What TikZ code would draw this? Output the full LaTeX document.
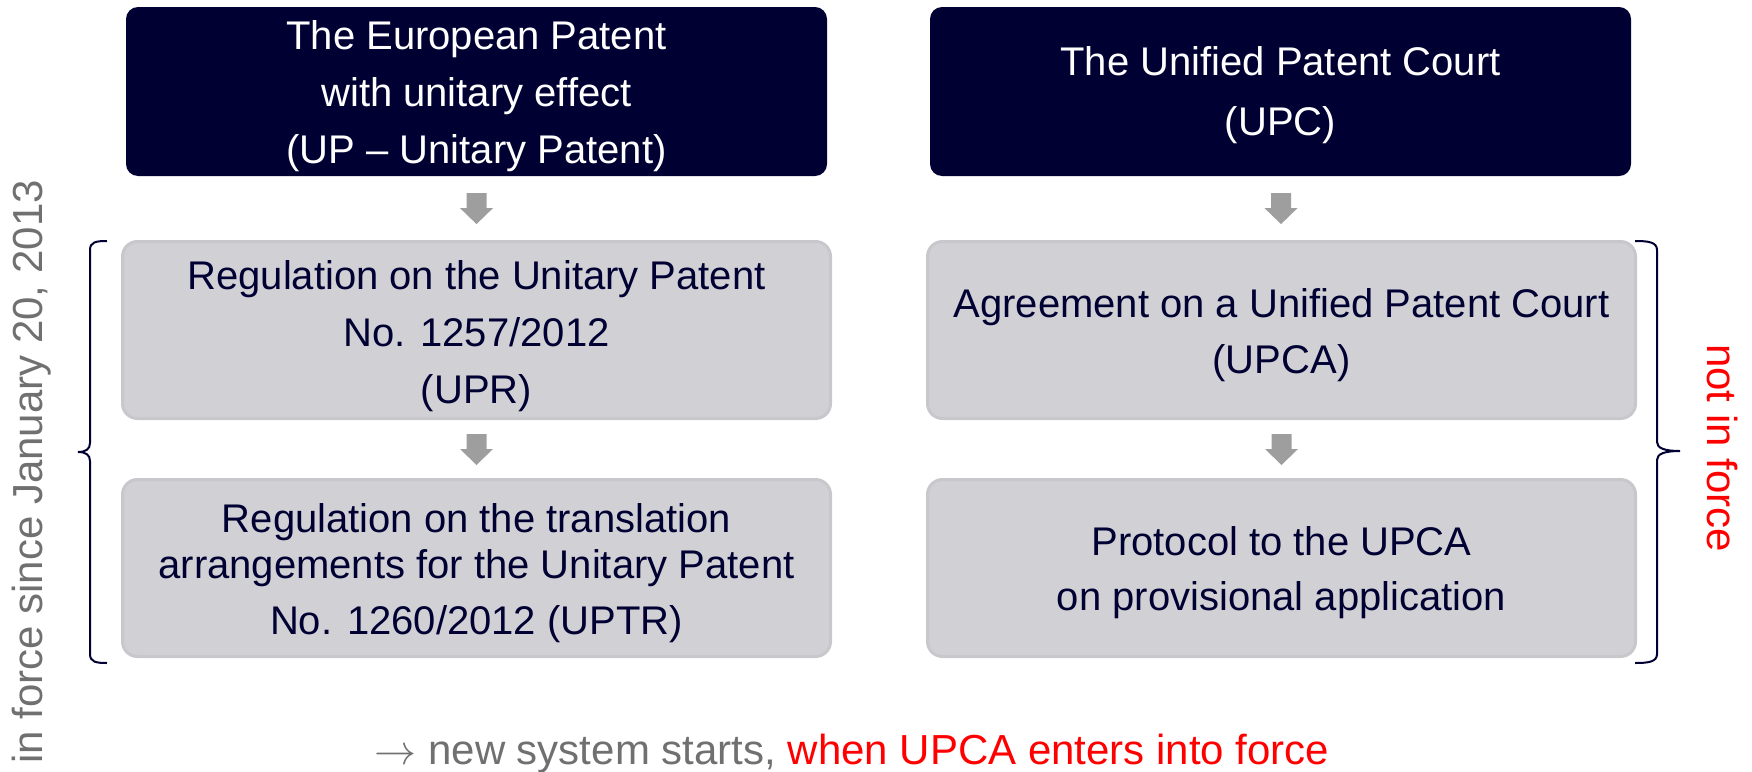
\documentclass[tikz,border=0pt]{standalone}
\usepackage{graphicx}
\usepackage{fontspec}
\setmainfont{Liberation Sans}
\usetikzlibrary{calc}
\definecolor{navy}{RGB}{0,0,51}
\definecolor{boxgray}{RGB}{209,209,213}
\definecolor{boxedge}{RGB}{199,199,204}
\definecolor{arrowgray}{RGB}{158,158,158}
\definecolor{sidegray}{RGB}{112,112,112}
\definecolor{alertred}{RGB}{255,0,0}
\newcommand\blockarrow[1]{\fill[arrowgray] (#1) ++(-10,-15) -- ++(20,0) -- ++(0,15) -- ++(6.5,0) -- ++(-16.5,16) -- ++(-16.5,-16) -- ++(6.5,0) -- cycle;}
\begin{document}
\begin{tikzpicture}[x=1pt,y=-1pt,
  boxtext/.style={font=\fontsize{40}{46}\selectfont, align=center, inner sep=0pt},
  darkbox/.style={fill=navy, draw=none, rounded corners=12pt, minimum width=701pt, minimum height=169pt, inner sep=0pt},
  graybox/.style={fill=boxgray, draw=boxedge, line width=3pt, rounded corners=15pt, minimum width=708pt, minimum height=177pt, inner sep=0pt},
  sidetext/.style={font=\fontsize{42}{48}\selectfont, inner sep=0pt, anchor=base},
  bracestyle/.style={draw=navy, line width=2pt}]
\useasboundingbox (0,0) rectangle (1752,771);
% top boxes
\node[darkbox] (d1) at (476.5,91.5) {};
\node[darkbox] (d2) at (1280.5,91.5) {};
% gray boxes
\node[graybox] (g1) at (476.5,330) {};
\node[graybox] (g2) at (476.5,568) {};
\node[graybox] (r1) at (1281.5,330) {};
\node[graybox] (r2) at (1281.5,568) {};
% box texts
\node[boxtext, text=white] (d1t) at ($(d1.center)+(0,5)$) {The European Patent\\[11pt]with unitary effect\\[11pt](UP – Unitary Patent)};
\node[boxtext, text=white] (d2t) at ($(d2.center)+(0,4)$) {The Unified Patent Court\\[14pt](UPC)};
\node[boxtext, text=navy] (g1t) at ($(g1.center)+(0,6)$) {Regulation on the Unitary Patent\\[11pt]No. 1257/2012\\[11pt](UPR)};
\node[boxtext, text=navy] (g2t) at ($(g2.center)+(0,5)$) {Regulation on the translation\\arrangements for the Unitary Patent\\[10pt]No. 1260/2012 (UPTR)};
\node[boxtext, text=navy] (r1t) at ($(r1.center)+(0,5)$) {Agreement on a Unified Patent Court\\[10pt](UPCA)};
\node[boxtext, text=navy] (r2t) at ($(r2.center)+(0,5)$) {Protocol to the UPCA\\[9pt]on provisional application};
% block arrows
\coordinate (a1) at ($(d1.south)!0.5!(g1.north)$);
\coordinate (a2) at ($(g1.south)!0.5!(g2.north)$);
\coordinate (a3) at ($(d2.south)!0.5!(r1.north)$);
\coordinate (a4) at ($(r1.south)!0.5!(r2.north)$);
\blockarrow{a1}
\blockarrow{a2}
\blockarrow{a3}
\blockarrow{a4}
% braces
\draw[bracestyle] (107,241) .. controls (96,241) and (90,242) .. (90,250) -- (90,443) .. controls (90,449) and (86,452) .. (78,452) .. controls (86,452) and (90,455) .. (90,461) -- (90,654) .. controls (90,662) and (96,663) .. (107,663);
\draw[bracestyle] (1635,241) .. controls (1648,241) and (1657,242) .. (1657,250) -- (1657,442) .. controls (1657,448) and (1664,451) .. (1680,451) .. controls (1664,451) and (1657,454) .. (1657,460) -- (1657,654) .. controls (1657,662) and (1648,663) .. (1635,663);
% side texts
\node[sidetext, rotate=90, text=sidegray] (lt) at (42,472) {in force since January 20, 2013};
\node[sidetext, rotate=-90, text=alertred] (rt) at (1707,448) {not in force};
% bottom text
\node[sidetext] (bt) at (852,764) {\textcolor{sidegray}{\resizebox{42pt}{!}{$\rightarrow$} new system starts,} \textcolor{alertred}{when UPCA enters into force}};
\end{tikzpicture}
\end{document}
